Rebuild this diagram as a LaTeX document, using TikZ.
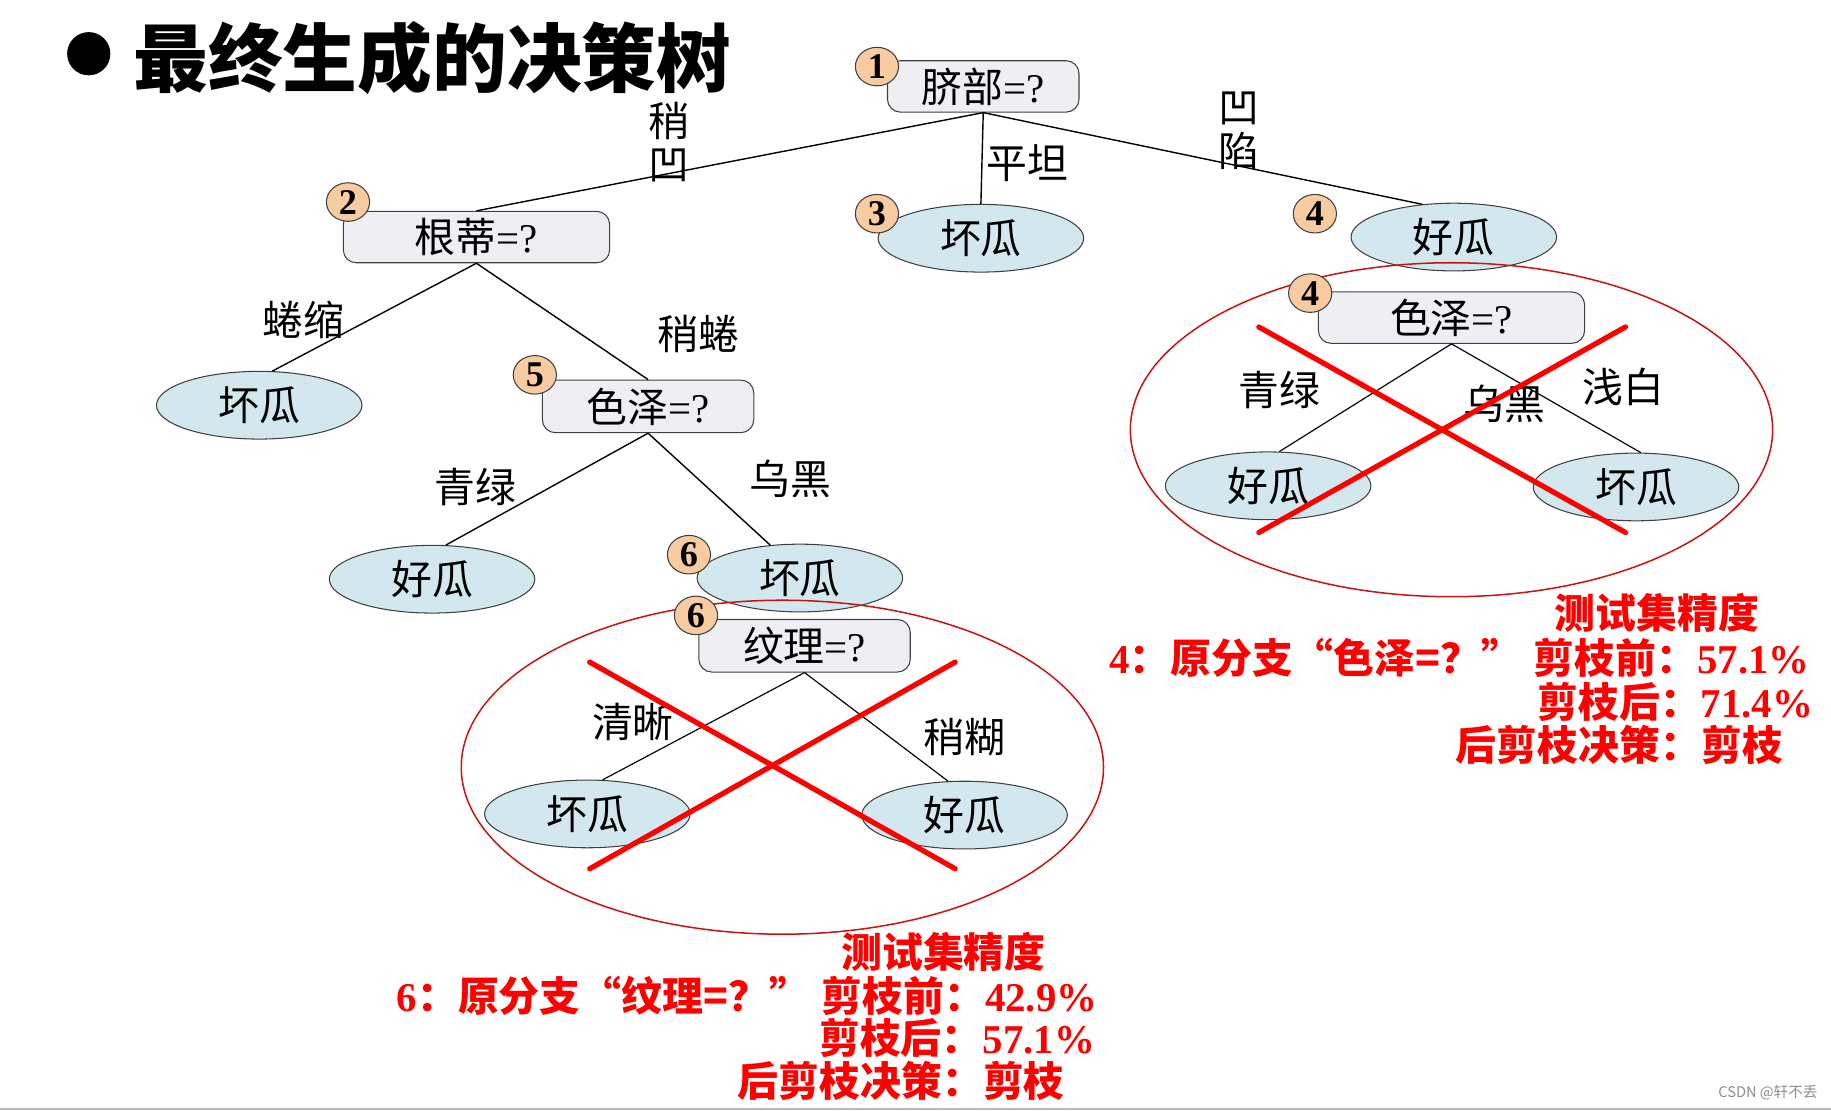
\documentclass[tikz,border=0pt]{standalone}
\usepackage{fontspec}
\setmainfont{Liberation Serif}
\newfontfamily\cjk{Noto Sans CJK SC}
\usetikzlibrary{shapes.geometric}
\definecolor{qfill}{RGB}{239,238,243}
\definecolor{leaffill}{RGB}{210,232,238}
\definecolor{badgefill}{RGB}{249,203,160}
\definecolor{ringred}{RGB}{200,20,20}
\definecolor{xred}{RGB}{255,0,0}
\definecolor{txtred}{RGB}{255,0,0}
\newcommand\zh[1]{{\cjk #1}}
\tikzset{
  qbox/.style={rectangle, draw=black!75, line width=0.9pt, fill=qfill, rounded corners=11pt, inner sep=0pt,
    minimum height=44pt, font=\fontsize{35}{40}\selectfont},
  leaf/.style={ellipse, draw=black!75, line width=0.9pt, fill=leaffill, minimum width=176pt, minimum height=58pt,
    inner sep=0pt, font=\fontsize{35}{40}\selectfont\cjk},
  badge/.style={ellipse, draw=black!75, line width=0.9pt, fill=badgefill, minimum width=37pt, minimum height=33pt,
    inner sep=0pt, font=\fontsize{31}{31}\selectfont\bfseries},
  elabel/.style={inner sep=0pt, align=center, font=\fontsize{35}{37}\selectfont\cjk},
  edge/.style={draw=black, line width=1.2pt},
  ring/.style={ellipse, draw=ringred, line width=1.3pt, minimum width=550pt, minimum height=286pt, inner sep=0pt},
  cross/.style={draw=xred, line width=4.5pt, line cap=round},
  redtxt/.style={inner sep=0pt, text=txtred, font=\fontsize{35}{38}\selectfont\bfseries},
}
\begin{document}
\begin{tikzpicture}[x=1pt,y=-1pt]
\useasboundingbox (0,0) rectangle (1568,951);
% bottom rule and title
\coordinate (bl) at (0,949.5);
\coordinate (br) at (1568,949.5);
\draw[draw=black!28, line width=2pt] (bl) -- (br);
\node[circle, fill=black, minimum size=37pt, inner sep=0pt] (bullet) at (76,46) {};
\node[anchor=west, inner sep=0pt, font=\fontsize{64}{68}\selectfont\cjk\bfseries] (title) at (114,50) {最终生成的决策树};

% upper tree nodes
\node[qbox, minimum width=164pt] (n1) at (842,74) {\zh{脐部}=?};
\node[qbox, minimum width=228pt] (n2) at (408,203) {\zh{根蒂}=?};
\node[leaf] (n3) at (840,204) {坏瓜};
\node[leaf] (n4) at (1245,203) {好瓜};
\node[leaf] (l2) at (222,347) {坏瓜};
\node[qbox, minimum width=181pt, minimum height=45pt] (n5) at (555,348) {\zh{色泽}=?};
\node[leaf] (l5) at (370,496) {好瓜};
\node[leaf] (n6) at (685,495) {坏瓜};

\draw[edge] (n1.south) -- (n2.north);
\draw[edge] (n1.south) -- (n3.north);
\draw[edge] (n1.south) -- (n4.134);
\draw[edge] (n2.south) -- (l2.69);
\draw[edge] (n2.south) -- (n5.north);
\draw[edge] (n5.south) -- (l5.68);
\draw[edge] (n5.south) -- (n6.132);

\node[badge] (b1) at (751,57) {1};
\node[badge] (b2) at (298,173) {2};
\node[badge] (b3) at (751,183) {3};
\node[badge] (b4) at (1126,183) {4};
\node[badge] (b5) at (458,321) {5};
\node[badge] (b6) at (590,475) {6};

\node[elabel] (t1) at (573,122) {稍\\凹};
\node[elabel] (t2) at (880,140) {平坦};
\node[elabel] (t3) at (1061,112) {凹\\陷};
\node[elabel] (t4) at (260,274) {蜷缩};
\node[elabel] (t5) at (598,286) {稍蜷};
\node[elabel] (t6) at (407,417) {青绿};
\node[elabel] (t7) at (677,410) {乌黑};

% pruned subtree 6
\node[ring] (r6) at (670,657) {};
\node[qbox, minimum width=181pt, minimum height=45pt] (p6) at (689,553) {\zh{纹理}=?};
\node[leaf] (p6a) at (503,697) {坏瓜};
\node[leaf] (p6b) at (826,698) {好瓜};
\draw[edge, line width=1pt] (p6.south) -- (p6a.66);
\draw[edge, line width=1pt] (p6.south) -- (p6b.116);
\node[badge] (bp6) at (596,527) {6};
\node[elabel] (s1) at (542,618) {清晰};
\node[elabel] (s2) at (826,631) {稍糊};
\coordinate (x6a) at (505,567);
\coordinate (x6b) at (818,744);
\coordinate (x6c) at (818,567);
\coordinate (x6d) at (505,744);
\draw[cross] (x6a) -- (x6b);
\draw[cross] (x6c) -- (x6d);

% pruned subtree 4
\node[ring] (r4) at (1243,368) {};
\node[qbox, minimum width=228pt] (p4) at (1243,272) {\zh{色泽}=?};
\node[leaf] (p4a) at (1086,416) {好瓜};
\node[leaf] (p4b) at (1401,417) {坏瓜};
\draw[edge, line width=1pt] (p4.south) -- (p4a.72);
\draw[edge, line width=1pt] (p4.south) -- (p4b.82);
\node[badge] (bp4) at (1122,251) {4};
\node[elabel] (u1) at (1096,334) {青绿};
\node[elabel] (u2) at (1288,346) {乌黑};
\node[elabel] (u3) at (1390,331) {浅白};
\coordinate (x4a) at (1078,280);
\coordinate (x4b) at (1392,456);
\coordinate (x4c) at (1392,280);
\coordinate (x4d) at (1078,456);
\draw[cross] (x4a) -- (x4b);
\draw[cross] (x4c) -- (x4d);

% red texts, subtree 6
\node[redtxt] (a0) at (808,815) {\zh{测试集精度}};
\node[redtxt, anchor=east] (a1) at (940,853) {6\zh{：原分支“纹理=？”\hspace{10pt}剪枝前：}42.9\%};
\node[redtxt, anchor=east] (a2) at (938,889) {\zh{剪枝后：}57.1\%};
\node[redtxt, anchor=east] (a3) at (912,926) {\zh{后剪枝决策：剪枝}};

% red texts, subtree 4
\node[redtxt] (c0) at (1419,525) {\zh{测试集精度}};
\node[redtxt, anchor=east] (c1) at (1550,563) {4\zh{：原分支“色泽=？”\hspace{10pt}剪枝前：}57.1\%};
\node[redtxt, anchor=east] (c2) at (1553,601) {\zh{剪枝后：}71.4\%};
\node[redtxt, anchor=east] (c3) at (1527,638) {\zh{后剪枝决策：剪枝}};

% watermark
\node[inner sep=0pt, text=black!45, font=\fontsize{12.5}{13}\selectfont\cjk] (wm) at (1514,936) {CSDN @轩不丢};
\end{tikzpicture}
\end{document}
